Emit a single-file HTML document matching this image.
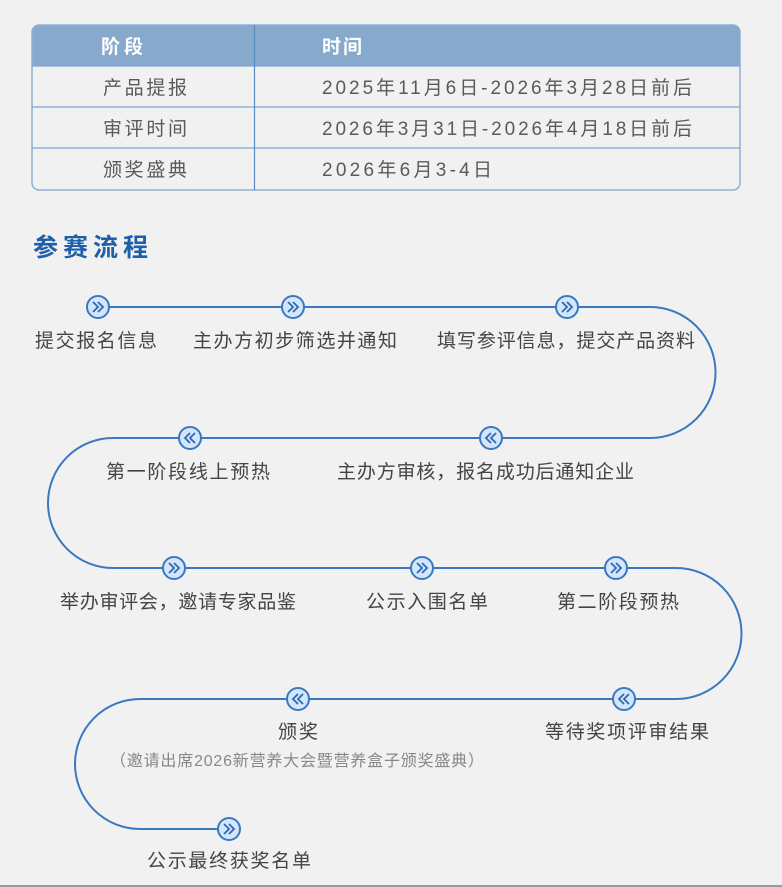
<!DOCTYPE html>
<html><head><meta charset="utf-8"><style>
html,body{margin:0;padding:0;background:#f1f1f1;width:782px;height:887px;overflow:hidden}
svg{display:block}
text{font-family:"Liberation Sans","Noto Sans CJK SC",sans-serif}
</style></head><body>
<svg width="782" height="887" viewBox="0 0 782 887" xmlns="http://www.w3.org/2000/svg">
<defs>
<g id="r"><circle r="11" fill="#d3e6fb" stroke="#3a78c0" stroke-width="2"/><path d="M-5,-5 L0,0 L-5,5 M0,-5 L5,0 L0,5" fill="none" stroke="#2e68b0" stroke-width="1.8"/></g>
<g id="l"><circle r="11" fill="#d3e6fb" stroke="#3a78c0" stroke-width="2"/><path d="M5,-5 L0,0 L5,5 M0,-5 L-5,0 L0,5" fill="none" stroke="#2e68b0" stroke-width="1.8"/></g>
</defs>
<rect width="782" height="887" fill="#f1f1f1"/>
<line x1="0" y1="886" x2="782" y2="886" stroke="#999" stroke-width="2"/>
<!-- table -->
<path d="M32,66 V32 a7,7 0 0 1 7,-7 H733 a7,7 0 0 1 7,7 V66 Z" fill="#86a9cc"/>
<rect x="32" y="25" width="708" height="165" rx="7" fill="none" stroke="#8fb0d4" stroke-width="1.5"/>
<g stroke="#7fa6d2" stroke-width="1.2">
<line x1="32" y1="66" x2="740" y2="66"/><line x1="32" y1="107" x2="740" y2="107"/><line x1="32" y1="148" x2="740" y2="148"/>
<line x1="254.5" y1="25" x2="254.5" y2="190" stroke="#5b8cc4"/>
</g>
<g font-size="19" fill="#fff" font-weight="bold">
<text x="101" y="53" textLength="42">阶段</text>
<text x="322" y="53" textLength="40">时间</text>
</g>
<g font-size="19" fill="#5a5a5a">
<text x="103" y="94" textLength="84">产品提报</text>
<text x="103" y="135" textLength="84">审评时间</text>
<text x="103" y="176" textLength="84">颁奖盛典</text>
<text x="322" y="94" textLength="370">2025年11月6日-2026年3月28日前后</text>
<text x="322" y="135" textLength="370">2026年3月31日-2026年4月18日前后</text>
<text x="322" y="176" textLength="170">2026年6月3-4日</text>
</g>
<text x="33" y="256" font-size="25" font-weight="bold" fill="#1d5fa8" textLength="115">参赛流程</text>
<!-- path -->
<path d="M98,307 H650 A65.5,65.5 0 0 1 650,438 H113 A65,65 0 0 0 113,568 H676 A65.5,65.5 0 0 1 676,699 H140 A65,65 0 0 0 140,829 H229" fill="none" stroke="#3a78c0" stroke-width="2"/>
<use href="#r" x="98" y="307"/><use href="#r" x="293" y="307"/><use href="#r" x="567" y="307"/>
<use href="#l" x="190" y="438"/><use href="#l" x="491" y="438"/>
<use href="#r" x="174" y="568"/><use href="#r" x="422" y="568"/><use href="#r" x="616" y="568"/>
<use href="#l" x="298" y="699"/><use href="#l" x="624" y="699"/>
<use href="#r" x="229" y="829"/>
<g font-size="19" fill="#444">
<text x="35" y="347" textLength="122">提交报名信息</text>
<text x="193" y="347" textLength="204">主办方初步筛选并通知</text>
<text x="437" y="347" textLength="258">填写参评信息，提交产品资料</text>
<text x="106" y="478" textLength="164">第一阶段线上预热</text>
<text x="337" y="478" textLength="297">主办方审核，报名成功后通知企业</text>
<text x="60" y="608" textLength="236">举办审评会，邀请专家品鉴</text>
<text x="366" y="608" textLength="122">公示入围名单</text>
<text x="557" y="608" textLength="122">第二阶段预热</text>
<text x="278" y="738" textLength="40">颁奖</text>
<text x="545" y="738" textLength="164">等待奖项评审结果</text>
<text x="147" y="867" textLength="164">公示最终获奖名单</text>
</g>
<text x="110" y="766" font-size="16" fill="#888" textLength="374">（邀请出席2026新营养大会暨营养盒子颁奖盛典）</text>
</svg>
</body></html>
